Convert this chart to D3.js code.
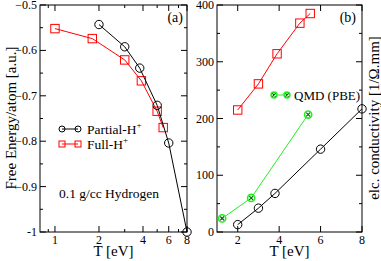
<!DOCTYPE html>
<html><head><meta charset="utf-8">
<script src="https://cdn.jsdelivr.net/npm/d3@7"></script>
<style>body{margin:0;background:#fff}svg{display:block}text{font-family:"Liberation Serif","Times New Roman",serif;fill:#000}</style>
</head><body>
<svg id="c" width="381" height="261"></svg>
<script>
// Panel (a): free energy per atom vs T
const partialT = [2, 3, 3.8, 5, 6, 8];
const partialF = [-0.543, -0.592, -0.639, -0.721, -0.804, -1.0];
const fullT = [1, 1.8, 3, 3.9, 5, 5.5];
const fullF = [-0.552, -0.574, -0.621, -0.667, -0.734, -0.770];
const aXTicks = [1, 2, 4, 6, 8];
const aXMinor = [0.9, 3, 5, 7];
const aYTicks = [-0.5, -0.6, -0.7, -0.8, -0.9, -1];
const aYMinor = [-0.55, -0.65, -0.75, -0.85, -0.95];
// Panel (b): electrical conductivity vs T
const partialST = [2, 3, 3.8, 6, 8];
const partialS = [13, 42, 68, 146, 217];
const fullST = [2, 3, 3.9, 5, 5.5];
const fullS = [215, 261, 314, 368, 385];
const qmdT = [1.25, 2.65, 5.4];
const qmdS = [24, 60, 207];
const bXTicks = [2, 4, 6, 8];
const bYTicks = [0, 100, 200, 300, 400];
const bYMinor = [50, 150, 250, 350];

const svg = d3.select("#c");
const RED = "#ff0000", GREEN = "#22ee22";

function frame(g, x, y, xt, xm, yt, ym, yfmt) {
  const [x0, x1] = x.range(), [y0, y1] = y.range();
  g.append("rect").attr("x", x0).attr("y", y1).attr("width", x1 - x0).attr("height", y0 - y1)
    .attr("fill", "none").attr("stroke", "#000").attr("stroke-width", 1);
  const tk = (vals, len, isX) => vals.forEach(v => {
    if (isX) {
      const p = x(v);
      g.append("line").attr("x1", p).attr("x2", p).attr("y1", y0).attr("y2", y0 - len).attr("stroke", "#000");
      g.append("line").attr("x1", p).attr("x2", p).attr("y1", y1).attr("y2", y1 + len).attr("stroke", "#000");
    } else {
      const p = y(v);
      g.append("line").attr("y1", p).attr("y2", p).attr("x1", x0).attr("x2", x0 + len).attr("stroke", "#000");
      g.append("line").attr("y1", p).attr("y2", p).attr("x1", x1).attr("x2", x1 - len).attr("stroke", "#000");
    }
  });
  tk(xt, 6, true); tk(xm, 3, true); tk(yt, 6, false); tk(ym, 3, false);
  xt.forEach(v => g.append("text").attr("x", x(v)).attr("y", 244).attr("text-anchor", "middle")
    .attr("font-size", 12).text(v));
  yt.forEach(v => g.append("text").attr("x", x0 - 3).attr("y", y(v) + 4).attr("text-anchor", "end")
    .attr("font-size", 12).text(yfmt(v)));
  g.append("text").attr("x", (x0 + x1) / 2).attr("y", 256).attr("text-anchor", "middle")
    .attr("font-size", 15).text("T [eV]");
}

function series(g, x, y, xs, ys, color, shape) {
  const pts = xs.map((v, i) => [x(v), y(ys[i])]);
  g.append("path").attr("d", d3.line()(pts)).attr("fill", "none").attr("stroke", color).attr("stroke-width", 1);
  pts.forEach(p => marker(g, p[0], p[1], color, shape, 4.2));
}
function marker(g, cx, cy, color, shape, r) {
  if (shape === "circle") {
    g.append("circle").attr("cx", cx).attr("cy", cy).attr("r", r).attr("fill", "none").attr("stroke", color).attr("stroke-width", 1);
  } else if (shape === "square") {
    g.append("rect").attr("x", cx - r).attr("y", cy - r).attr("width", 2 * r).attr("height", 2 * r)
      .attr("fill", "none").attr("stroke", color).attr("stroke-width", 1);
  } else {
    g.append("circle").attr("cx", cx).attr("cy", cy).attr("r", r - 0.6).attr("fill", "#fff").attr("stroke", color).attr("stroke-width", 1.6);
    const d = r * 0.45;
    g.append("path").attr("d", `M${cx - d},${cy - d}L${cx + d},${cy + d}M${cx - d},${cy + d}L${cx + d},${cy - d}`)
      .attr("stroke", "#006600").attr("stroke-width", 1.2);
  }
}

// Panel (a)
const xa = d3.scaleLog().domain([0.79, 8]).range([40, 187]);
const ya = d3.scaleLinear().domain([-1, -0.5]).range([232, 5]);
const ga = svg.append("g");
frame(ga, xa, ya, aXTicks, aXMinor, aYTicks, aYMinor, v => (v === -1 ? "-1" : d3.format(".1f")(v)));
series(ga, xa, ya, fullT, fullF, RED, "square");
series(ga, xa, ya, partialT, partialF, "#000", "circle");
ga.append("text").attr("x", 183).attr("y", 22).attr("text-anchor", "end").attr("font-size", 14).text("(a)");
// legend (a)
[[129, "#000", "circle", "Partial-H"], [144, RED, "square", "Full-H"]].forEach(([ly, col, sh, lab]) => {
  ga.append("line").attr("x1", 62).attr("x2", 78).attr("y1", ly).attr("y2", ly).attr("stroke", col);
  marker(ga, 62, ly, col, sh, 3);
  marker(ga, 78, ly, col, sh, 3);
  const t = ga.append("text").attr("x", 87).attr("y", ly + 5).attr("font-size", 13.5).text(lab);
  t.append("tspan").attr("dy", -6).attr("font-size", 9).text("+");
});
ga.append("text").attr("x", 59).attr("y", 198).attr("font-size", 13.5).text("0.1 g/cc Hydrogen");
ga.append("text").attr("transform", "translate(15.5,118) rotate(-90)").attr("text-anchor", "middle")
  .attr("font-size", 15).text("Free Energy/atom [a.u.]");

// Panel (b)
const xb = d3.scaleLinear().domain([1, 8]).range([217, 362]);
const yb = d3.scaleLinear().domain([0, 400]).range([232, 5]);
const gb = svg.append("g");
frame(gb, xb, yb, bXTicks, [], bYTicks, bYMinor, v => v);
series(gb, xb, yb, fullST, fullS, RED, "square");
series(gb, xb, yb, qmdT, qmdS, GREEN, "cross");
series(gb, xb, yb, partialST, partialS, "#000", "circle");
gb.append("text").attr("x", 356).attr("y", 22).attr("text-anchor", "end").attr("font-size", 14).text("(b)");
gb.append("line").attr("x1", 274).attr("x2", 287).attr("y1", 95).attr("y2", 95).attr("stroke", GREEN);
marker(gb, 274, 95, GREEN, "cross", 3.5);
marker(gb, 287, 95, GREEN, "cross", 3.5);
gb.append("text").attr("x", 294).attr("y", 100).attr("font-size", 13).text("QMD (PBE)");
gb.append("text").attr("transform", "translate(378.5,118) rotate(-90)").attr("text-anchor", "middle")
  .attr("font-size", 15).text("elc. conductivity [1/Ω.mm]");
</script>
</body></html>
